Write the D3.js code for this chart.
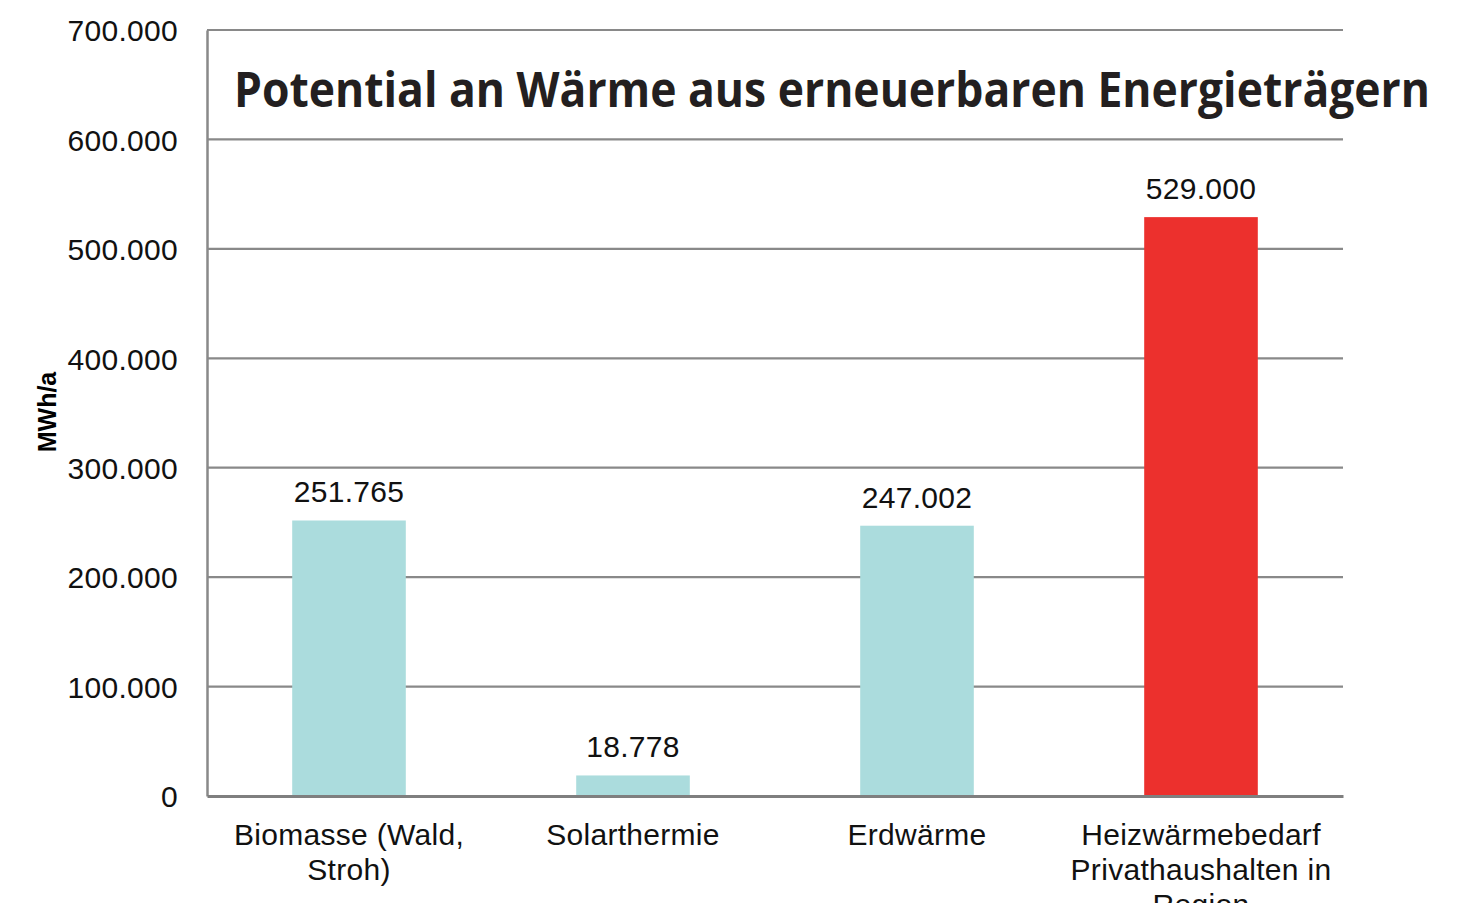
<!DOCTYPE html>
<html><head><meta charset="utf-8">
<script src="https://cdn.jsdelivr.net/npm/d3@7"></script>
<style>
html,body{margin:0;padding:0;background:#fff;overflow:hidden}
svg{display:block}
</style></head>
<body>
<svg id="chart" width="1483" height="903"></svg>
<script>
const title = "Potential an Wärme aus erneuerbaren Energieträgern";
const yAxisTitle = "MWh/a";
const categories = ["Biomasse (Wald, Stroh)", "Solarthermie", "Erdwärme", "Heizwärmebedarf Privathaushalten in Region"];
const categoryLines = [["Biomasse (Wald,", "Stroh)"], ["Solarthermie"], ["Erdwärme"], ["Heizwärmebedarf", "Privathaushalten in", "Region"]];
const values = [251765, 18778, 247002, 529000];
const valueLabels = ["251.765", "18.778", "247.002", "529.000"];
const barColors = ["#abdcdd", "#abdcdd", "#abdcdd", "#ec302d"];
const yTicks = [0, 100000, 200000, 300000, 400000, 500000, 600000, 700000];
const yTickLabels = ["0", "100.000", "200.000", "300.000", "400.000", "500.000", "600.000", "700.000"];

const svg = d3.select("#chart");
const m = {left: 207, right: 1343, top: 30, bottom: 796};
const FONT = "Liberation Sans, Arial, sans-serif";

const x = d3.scaleBand().domain(categories).range([m.left, m.right]).paddingInner(0.6).paddingOuter(0.3);
const y = d3.scaleLinear().domain([0, 700000]).range([m.bottom, m.top]);

// gridlines
svg.append("g").selectAll("line").data(yTicks.filter(d => d > 0)).join("line")
  .attr("x1", m.left).attr("x2", m.right)
  .attr("y1", d => y(d)).attr("y2", d => y(d))
  .attr("stroke", "#898989").attr("stroke-width", 2.2);

// y axis
const yAxis = d3.axisLeft(y).tickValues(yTicks).tickSize(0).tickPadding(29)
  .tickFormat((d, i) => yTickLabels[i]);
const gy = svg.append("g").attr("transform", `translate(${m.left},0)`).call(yAxis);
gy.select(".domain").attr("stroke", "#898989").attr("stroke-width", 2.5);
gy.selectAll("text").attr("font-family", FONT)
  .attr("font-size", 30).attr("letter-spacing", 0.3).attr("fill", "#111").attr("dy", "0.36em");

// bars
svg.append("g").selectAll("rect").data(values).join("rect")
  .attr("x", (d, i) => x(categories[i]))
  .attr("width", x.bandwidth())
  .attr("y", d => y(d))
  .attr("height", d => y(0) - y(d))
  .attr("fill", (d, i) => barColors[i]);

// value labels
svg.append("g").selectAll("text").data(values).join("text")
  .attr("x", (d, i) => x(categories[i]) + x.bandwidth() / 2)
  .attr("y", d => y(d) - 18)
  .attr("text-anchor", "middle")
  .attr("font-family", FONT)
  .attr("font-size", 30).attr("letter-spacing", 0.3).attr("fill", "#111")
  .text((d, i) => valueLabels[i]);

// x axis baseline
const xAxis = d3.axisBottom(x).tickSize(0).tickFormat("");
const gx = svg.append("g").attr("transform", `translate(0,${m.bottom})`).call(xAxis);
gx.select(".domain").attr("stroke", "#7f7f7f").attr("stroke-width", 3);

// category labels
const cl = svg.append("g");
categories.forEach((c, i) => {
  const cx = x(c) + x.bandwidth() / 2;
  const t = cl.append("text")
    .attr("x", cx).attr("y", 845)
    .attr("text-anchor", "middle")
    .attr("font-family", FONT)
    .attr("font-size", 30).attr("letter-spacing", 0.3).attr("fill", "#111");
  categoryLines[i].forEach((ln, j) => {
    t.append("tspan").attr("x", cx).attr("y", 845 + j * 35).text(ln);
  });
});

// y axis title
svg.append("text")
  .attr("transform", "translate(56,412) rotate(-90)")
  .attr("text-anchor", "middle")
  .attr("font-family", FONT)
  .attr("font-weight", "bold").attr("font-size", 25).attr("fill", "#000")
  .text(yAxisTitle);

// title
svg.append("text")
  .attr("x", 234).attr("y", 107)
  .attr("font-family", "Open Sans, sans-serif")
  .attr("font-weight", 700).attr("font-size", 49).attr("fill", "#231f20")
  .attr("textLength", 1196).attr("lengthAdjust", "spacingAndGlyphs")
  .text(title);
</script>
</body></html>
